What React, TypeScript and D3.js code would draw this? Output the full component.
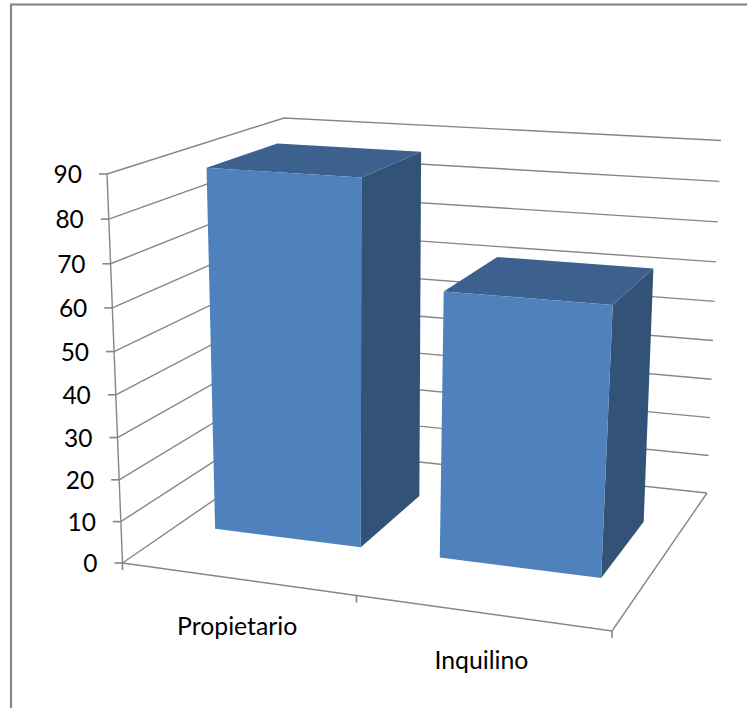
import React from "react";
import * as d3 from "d3";

// Chart values
const categories = ["Propietario", "Inquilino"];
const values = [87.5, 63];
const valueTicks = [0, 10, 20, 30, 40, 50, 60, 70, 80, 90];

const WIDTH = 747;
const HEIGHT = 708;
const FONT = "Lato, Carlito, Calibri, sans-serif";
const GRID = "#868686";

type Pt = [number, number];

// Screen corners of the plot box: [front-left, front-right, back-right, back-left].
const floorCorners: Pt[] = [[122.5, 563], [612, 631], [707, 493], [289.5, 448]];
const ceilingCorners: Pt[] = [[107, 174], [634, 209], [721, 140.5], [284, 118]];

// Projective map of the unit square onto a quadrilateral.
function planeMap([A, B, C, D]: Pt[]) {
  const a1 = B[0] - C[0], b1 = D[0] - C[0], c1 = A[0] - C[0];
  const a2 = B[1] - C[1], b2 = D[1] - C[1], c2 = A[1] - C[1];
  const det = a1 * b2 - a2 * b1;
  const p = (c1 * b2 - c2 * b1) / det;
  const q = (a1 * c2 - a2 * c1) / det;
  return (u: number, w: number): Pt => {
    const den = 1 + u * (p - 1) + w * (q - 1);
    const at = (i: 0 | 1) => (A[i] + u * (p * B[i] - A[i]) + w * (q * D[i] - A[i])) / den;
    return [at(0), at(1)];
  };
}

const floorMap = planeMap(floorCorners);
const ceilingMap = planeMap(ceilingCorners);
const foreshorten = 0.05;

// u runs along the categories, w into the depth, t up the value axis.
function project(u: number, w: number, t: number): Pt {
  const k = t / (1 + foreshorten * (1 - t));
  const a = floorMap(u, w);
  const b = ceilingMap(u, w);
  return [a[0] + (b[0] - a[0]) * k, a[1] + (b[1] - a[1]) * k];
}

const heightScale = d3.scaleLinear().domain([0, 90]).range([0, 1]);
const categoryScale = d3.scaleBand<string>().domain(categories).range([0, 1]).paddingInner(0.34).paddingOuter(0.17);
const centerScale = d3.scalePoint<string>().domain(categories).range([0.25, 0.75]);
const depthFront = 0.3;
const depthBack = 0.72;

const pathOf = d3.line<Pt>();
const closed = (pts: Pt[]) => pathOf(pts) + "Z";

export default function App() {
  const floorOutline: Pt[] = [project(0, 0, 0), project(1, 0, 0), project(1, 1, 0)];
  const axisLine: Pt[] = [project(0, 0, 0), project(0, 0, 1)];

  return (
    <svg
      width={WIDTH}
      height={HEIGHT}
      viewBox={`0 0 ${WIDTH} ${HEIGHT}`}
      style={{ position: "absolute", left: 0, top: 0, display: "block", background: "#fff" }}
    >
      <rect x={11} y={4.5} width={WIDTH + 20} height={HEIGHT + 20} fill="#fff" stroke="#878787" strokeWidth={2.2} />

      {valueTicks.map((v) => {
        const t = heightScale(v);
        const wall: Pt[] = [project(0, 0, t), project(0, 1, t), project(1, 1, t)];
        const [x, y] = project(0, 0, t);
        return (
          <g key={v}>
            <path d={pathOf(wall)!} fill="none" stroke={GRID} strokeWidth={1.4} />
            <line x1={x - 8} x2={x} y1={y} y2={y} stroke={GRID} strokeWidth={1.6} />
            <text x={x - 25} y={y + 9} textAnchor="end" fontFamily={FONT} fontSize={24.5} fill="#000">
              {v}
            </text>
          </g>
        );
      })}

      <path d={pathOf(axisLine)!} fill="none" stroke={GRID} strokeWidth={1.4} />
      <path d={pathOf(floorOutline)!} fill="none" stroke={GRID} strokeWidth={1.4} />
      {[0, 0.505, 1].map((u) => {
        const [x, y] = project(u, 0, 0);
        return <line key={u} x1={x} x2={x} y1={y} y2={y + 7} stroke={GRID} strokeWidth={1.6} />;
      })}

      {categories.map((c, i) => {
        const u0 = categoryScale(c)!;
        const u1 = u0 + categoryScale.bandwidth();
        const t = heightScale(values[i]);
        const front: Pt[] = [project(u0, depthFront, 0), project(u1, depthFront, 0), project(u1, depthFront, t), project(u0, depthFront, t)];
        const side: Pt[] = [project(u1, depthFront, 0), project(u1, depthBack, 0), project(u1, depthBack, t), project(u1, depthFront, t)];
        const top: Pt[] = [project(u0, depthFront, t), project(u1, depthFront, t), project(u1, depthBack, t), project(u0, depthBack, t)];
        return (
          <g key={c}>
            <path d={closed(side)} fill="#325278" />
            <path d={closed(top)} fill="#3C618F" />
            <path d={closed(front)} fill="#4F81BD" />
          </g>
        );
      })}

      {categories.map((c) => {
        const [x, y] = project(centerScale(c)!, 0, 0);
        return (
          <text key={c} x={x + 2} y={y + 56} textAnchor="middle" fontFamily={FONT} fontSize={24.8} fill="#000">
            {c}
          </text>
        );
      })}
    </svg>
  );
}
